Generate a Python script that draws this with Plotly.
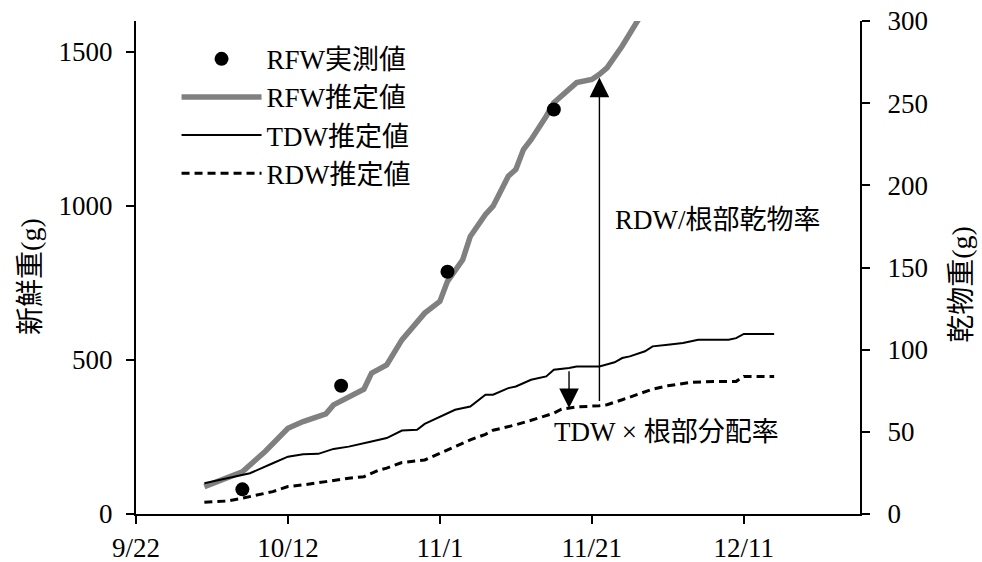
import numpy as np
import pandas as pd
import plotly.graph_objects as go

YEAR = 2014

# ---- data (month/day, values) ----
measured_dates = ["10/6", "10/19", "11/2", "11/16"]
rfw_measured = [80, 416, 786, 1313]

rfw_est_dates = ["10/1", "10/4", "10/6", "10/9", "10/12", "10/14", "10/17", "10/18",
                 "10/20", "10/22", "10/23", "10/25", "10/27", "10/28", "10/30", "11/1",
                 "11/2", "11/4", "11/5", "11/7", "11/8", "11/10", "11/11", "11/12",
                 "11/13", "11/15", "11/16", "11/19", "11/21", "11/22", "11/23", "11/25",
                 "11/27", "11/28"]
rfw_est = [89, 120, 137, 203, 278, 300, 325, 354,
           380, 405, 457, 484, 565, 592, 652, 690,
           755, 825, 901, 972, 999, 1096, 1118, 1183,
           1215, 1291, 1335, 1400, 1410, 1427, 1448, 1519,
           1595, 1640]

tdw_dates = ["10/1", "10/4", "10/7", "10/10", "10/12", "10/14", "10/16", "10/18",
             "10/20", "10/23", "10/25", "10/27", "10/29", "10/30", "11/1", "11/3",
             "11/5", "11/7", "11/8", "11/10", "11/11", "11/13", "11/15", "11/16",
             "11/18", "11/19", "11/22", "11/24", "11/25", "11/26", "11/28", "11/29",
             "12/1", "12/3", "12/5", "12/9", "12/10", "12/11", "12/15"]
tdw_est = [18.7, 21.8, 24.8, 30.9, 34.9, 36.4, 36.6, 39.6,
           41.0, 44.1, 46.2, 50.8, 51.2, 54.8, 59.3, 63.4,
           65.4, 72.6, 72.6, 76.6, 77.6, 81.7, 83.7, 87.8,
           88.8, 89.8, 89.8, 92.3, 94.9, 95.9, 99.0, 102.0,
           103.0, 104.0, 106.0, 106.0, 107.0, 109.6, 109.6]

rdw_dates = ["10/1", "10/4", "10/6", "10/10", "10/12", "10/14", "10/17", "10/20",
             "10/22", "10/24", "10/25", "10/27", "10/30", "11/1", "11/4", "11/5",
             "11/7", "11/8", "11/9", "11/11", "11/14", "11/16", "11/17", "11/19",
             "11/22", "11/23", "11/25", "11/27", "11/29", "12/1", "12/4", "12/7",
             "12/10", "12/11", "12/15"]
rdw_est = [7.1, 7.9, 9.6, 13.6, 16.7, 17.7, 19.7, 21.8,
           22.7, 26.8, 27.9, 31.3, 32.9, 37.0, 43.1, 45.1,
           48.5, 51.0, 52.0, 54.3, 58.4, 61.4, 63.8, 65.1,
           65.9, 66.5, 69.5, 72.6, 76.0, 78.0, 80.1, 80.7,
           80.7, 83.7, 83.7]

x_tick_dates = ["9/22", "10/12", "11/1", "11/21", "12/11"]
x_tick_labels = ["9/22", "10/12", "11/1", "11/21", "12/11"]
left_ticks = [0, 500, 1000, 1500]
right_ticks = [0, 50, 100, 150, 200, 250, 300]

arrow_up_date = "11/22"     # RDW -> RFW
arrow_down_date = "11/18"   # TDW -> RDW


def to_date(md):
    m, d = md.split("/")
    return pd.Timestamp(YEAR, int(m), int(d))


def dates(lst):
    return [to_date(s) for s in lst]


LEFT_MAX, RIGHT_MAX = 1600, 300
FONT = "Liberation Serif, 'Noto Sans CJK JP', serif"
FS = 27

fig = go.Figure()
fig.add_trace(go.Scatter(x=dates(rfw_est_dates), y=rfw_est, mode="lines", name="RFW推定値",
                         line=dict(color="#808080", width=5.5), legendrank=2))
fig.add_trace(go.Scatter(x=dates(tdw_dates), y=tdw_est, mode="lines", name="TDW推定値",
                         line=dict(color="black", width=2), yaxis="y2", legendrank=3))
fig.add_trace(go.Scatter(x=dates(rdw_dates), y=rdw_est, mode="lines", name="RDW推定値",
                         line=dict(color="black", width=3, dash="8px,5px"), yaxis="y2", legendrank=4))
fig.add_trace(go.Scatter(x=dates(measured_dates), y=rfw_measured, mode="markers", name="RFW実測値",
                         marker=dict(color="black", size=14), legendrank=1))


# helper: value of a series at a date (optionally rescaled to the right axis)
def val_at(date_list, values, md, scale=1.0):
    xs = np.array([to_date(s).value for s in date_list], dtype=float)
    return float(np.interp(to_date(md).value, xs, np.array(values, dtype=float))) * scale


to_right = RIGHT_MAX / LEFT_MAX
up_head = val_at(rfw_est_dates, rfw_est, arrow_up_date, to_right)
up_tail = val_at(rdw_dates, rdw_est, arrow_up_date)
down_head = val_at(rdw_dates, rdw_est, arrow_down_date)
down_tail = val_at(tdw_dates, tdw_est, arrow_down_date)

annotations = [
    dict(x=to_date(arrow_up_date), y=up_head - 2, ax=to_date(arrow_up_date), ay=up_tail + 2,
         xref="x", yref="y2", axref="x", ayref="y2", text="", showarrow=True,
         arrowhead=2, arrowsize=2.8, arrowwidth=1.4, arrowcolor="black"),
    dict(x=to_date(arrow_down_date), y=down_head, ax=to_date(arrow_down_date), ay=down_tail - 1,
         xref="x", yref="y2", axref="x", ayref="y2", text="", showarrow=True,
         arrowhead=2, arrowsize=2.8, arrowwidth=1.4, arrowcolor="black"),
    dict(x=0.659, y=0.596, xref="paper", yref="paper", xanchor="left", yanchor="middle",
         text="RDW/根部乾物率", showarrow=False, font=dict(size=FS, family=FONT, color="black")),
    dict(x=0.575, y=0.166, xref="paper", yref="paper", xanchor="left", yanchor="middle",
         text="TDW × 根部分配率", showarrow=False, font=dict(size=FS, family=FONT, color="black")),
    dict(x=-0.145, y=0.481, xref="paper", yref="paper", xanchor="center", yanchor="middle",
         text="新鮮重(g)", textangle=-90, showarrow=False,
         font=dict(size=FS + 1, family=FONT, color="black")),
    dict(x=1.141, y=0.465, xref="paper", yref="paper", xanchor="center", yanchor="middle",
         text="乾物重(g)", textangle=-90, showarrow=False,
         font=dict(size=FS + 1, family=FONT, color="black")),
]

axis_common = dict(showline=True, linecolor="black", linewidth=2, ticks="outside",
                   ticklen=8, tickwidth=2, tickcolor="black", showgrid=False, zeroline=False,
                   automargin=False, ticklabeloverflow="allow",
                   tickfont=dict(size=FS, family=FONT, color="black"))

x0 = to_date("9/22")
fig.update_layout(
    width=982, height=562,
    margin=dict(l=136, r=122, t=21, b=48, autoexpand=False),
    paper_bgcolor="white", plot_bgcolor="white",
    font=dict(family=FONT, size=FS, color="black"),
    xaxis=dict(type="date", range=[x0, x0 + pd.Timedelta(days=95.3)],
               tickmode="array", tickvals=dates(x_tick_dates), ticktext=x_tick_labels,
               ticklabelstandoff=1, **axis_common),
    yaxis=dict(range=[0, LEFT_MAX], tickmode="array", tickvals=left_ticks,
               ticklabelstandoff=8, **axis_common),
    yaxis2=dict(range=[0, RIGHT_MAX], tickmode="array", tickvals=right_ticks,
                overlaying="y", side="right", ticklabelstandoff=12, **axis_common),
    legend=dict(x=0.056, y=0.972, xanchor="left", yanchor="top", bgcolor="rgba(0,0,0,0)",
                font=dict(size=FS, family=FONT, color="black"), itemwidth=80,
                tracegroupgap=0),
    annotations=annotations,
    showlegend=True,
)

# remove the default page margin so the 982x562 figure fills the window exactly
fig.write_html("out.html", config={"displayModeBar": False},
               post_script="document.body.style.margin='0';document.body.style.overflow='hidden';")
